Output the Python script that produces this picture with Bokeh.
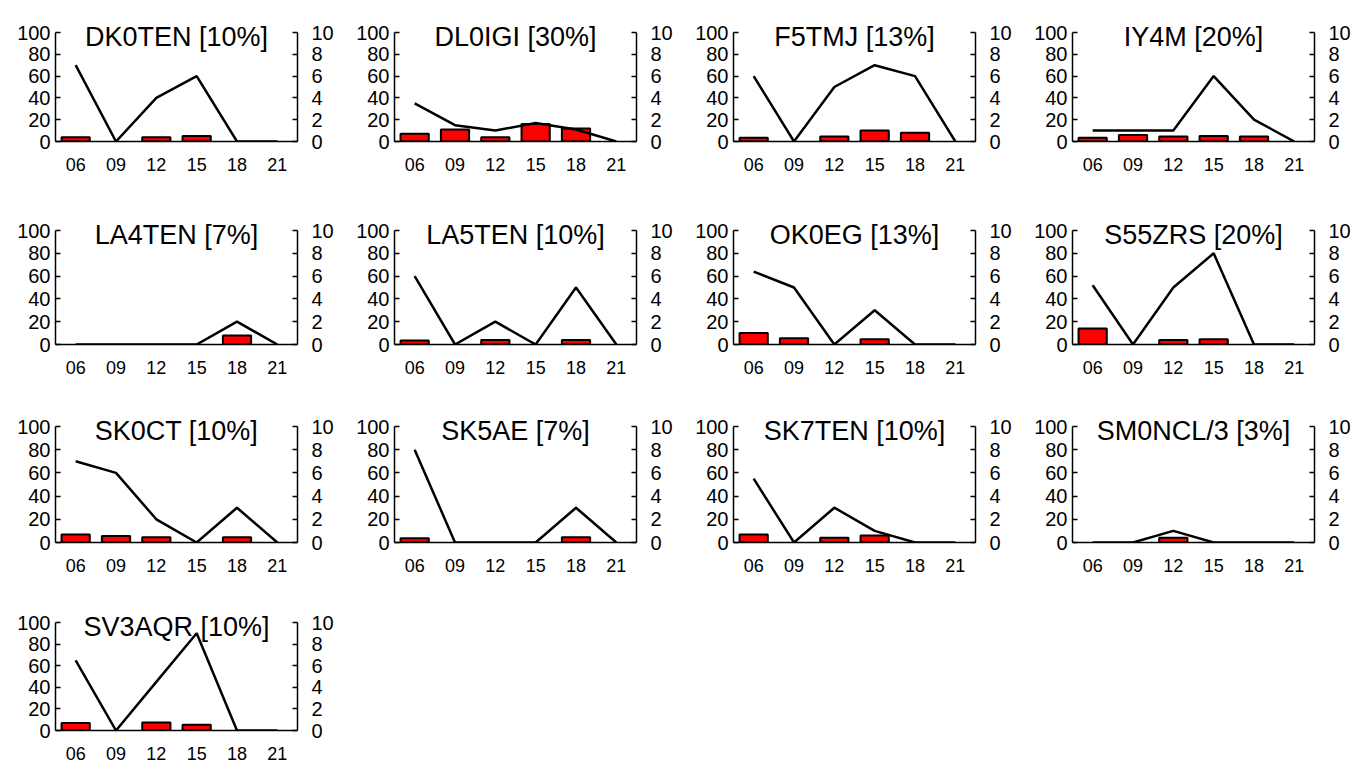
from bokeh.plotting import figure
from bokeh.models import Range1d, FactorRange, LinearAxis, FixedTicker, Label
from bokeh.layouts import gridplot
from bokeh.embed import file_html
from bokeh.resources import INLINE

hours = ["06", "09", "12", "15", "18", "21"]
names = ["DK0TEN", "DL0IGI", "F5TMJ", "IY4M", "LA4TEN", "LA5TEN", "OK0EG",
         "S55ZRS", "SK0CT", "SK5AE", "SK7TEN", "SM0NCL/3", "SV3AQR"]
pcts = [10, 30, 13, 20, 7, 10, 13, 20, 10, 7, 10, 3, 10]

# line values (left axis scale, 0-100)
line_dk0ten = [70, 0, 40, 60, 0, 0]
line_dl0igi = [35, 15, 10, 17, 11, 0]
line_f5tmj = [60, 0, 50, 70, 60, 0]
line_iy4m = [10, 10, 10, 60, 20, 0]
line_la4ten = [0, 0, 0, 0, 20, 0]
line_la5ten = [60, 0, 20, 0, 50, 0]
line_ok0eg = [64, 50, 0, 30, 0, 0]
line_s55zrs = [52, 0, 50, 80, 0, 0]
line_sk0ct = [70, 60, 20, 0, 30, 0]
line_sk5ae = [80, 0, 0, 0, 30, 0]
line_sk7ten = [55, 0, 30, 10, 0, 0]
line_sm0ncl = [0, 0, 10, 0, 0, 0]
line_sv3aqr = [65, 0, 45, 90, 0, 0]

# bar values (left axis scale)
bar_dk0ten = [4, 0, 4, 5, 0, 0]
bar_dl0igi = [7, 11, 4, 16, 12, 0]
bar_f5tmj = [3.5, 0, 4.5, 10, 8, 0]
bar_iy4m = [3.5, 6, 4.5, 5, 4.5, 0]
bar_la4ten = [0, 0, 0, 0, 8, 0]
bar_la5ten = [3.5, 0, 4, 0, 4, 0]
bar_ok0eg = [10, 5.5, 0, 4.7, 0, 0]
bar_s55zrs = [14, 0, 4, 4.7, 0, 0]
bar_sk0ct = [7, 5.7, 4.6, 0, 4.6, 0]
bar_sk5ae = [3.7, 0, 0, 0, 4.5, 0]
bar_sk7ten = [7, 0, 4.2, 6, 0, 0]
bar_sm0ncl = [0, 0, 4, 0, 0, 0]
bar_sv3aqr = [7, 0, 7.4, 5.4, 0, 0]

lines = [line_dk0ten, line_dl0igi, line_f5tmj, line_iy4m, line_la4ten, line_la5ten,
         line_ok0eg, line_s55zrs, line_sk0ct, line_sk5ae, line_sk7ten, line_sm0ncl, line_sv3aqr]
bars = [bar_dk0ten, bar_dl0igi, bar_f5tmj, bar_iy4m, bar_la4ten, bar_la5ten,
        bar_ok0eg, bar_s55zrs, bar_sk0ct, bar_sk5ae, bar_sk7ten, bar_sm0ncl, bar_sv3aqr]

left_ticks = [0, 20, 40, 60, 80, 100]
right_ticks = [0, 2, 4, 6, 8, 10]

FONT = "Liberation Sans"

# layout per row: pixels above the 100 level, px per unit, bottom border
row_top = [32, 32, 32, 32]
row_scale = [1.09, 1.14, 1.16, 1.08]
row_bottom = [57, 50, 48, 38]
# layout per column
BORDER_L = 55
FRAME_W = 242
BORDER_R = 42

figs = []
for i, (name, pct, lv, bv) in enumerate(zip(names, pcts, lines, bars)):
    r = i // 4
    s = row_scale[r]
    top = 100 + row_top[r] / s
    fh = int(round(row_top[r] + 100 * s))
    p = figure(x_range=FactorRange(*hours), y_range=Range1d(0, top),
               frame_width=FRAME_W, frame_height=fh,
               min_border_left=BORDER_L, min_border_right=BORDER_R,
               min_border_top=0, min_border_bottom=row_bottom[r],
               output_backend="svg", toolbar_location=None, tools="")
    p.outline_line_color = None
    p.xgrid.visible = False
    p.ygrid.visible = False

    p.extra_y_ranges = {"r": Range1d(0, top / 10)}
    rax = LinearAxis(y_range_name="r", ticker=FixedTicker(ticks=right_ticks), bounds=(0, 10))
    p.add_layout(rax, "right")

    for ax in (p.yaxis[0], rax):
        ax.major_tick_in = 5
        ax.major_tick_out = 0
        ax.minor_tick_in = 0
        ax.minor_tick_out = 0
        ax.axis_line_color = "black"
        ax.axis_line_width = 1.5
        ax.major_tick_line_width = 1.5
        ax.major_label_text_font = FONT
        ax.major_label_text_font_size = "20px"
        ax.major_label_text_color = "black"
    p.yaxis[0].ticker = FixedTicker(ticks=left_ticks)
    p.yaxis[0].bounds = (0, 100)
    p.yaxis[0].major_label_standoff = 5
    rax.major_label_standoff = 14

    xa = p.xaxis[0]
    xa.major_tick_in = 0
    xa.major_tick_out = 0
    xa.axis_line_color = "black"
    xa.axis_line_width = 1.5
    xa.major_label_standoff = 16
    xa.major_label_text_font = FONT
    xa.major_label_text_font_size = "18px"
    xa.major_label_text_color = "black"

    bx = [h for h, v in zip(hours, bv) if v > 0]
    by = [v for v in bv if v > 0]
    p.vbar(x=bx, top=by, bottom=0, width=0.7, fill_color="red",
           line_color="black", line_width=2)
    p.line(x=hours, y=lv, line_color="black", line_width=2.5)

    p.add_layout(Label(x=3, y=100, text=f"{name} [{pct}%]", text_align="center",
                       text_baseline="alphabetic", y_offset=-4,
                       text_font=FONT, text_font_size="27px", text_color="black"))
    figs.append(p)

grid = gridplot(figs, ncols=4, toolbar_location=None)

open("out.html", "w").write(file_html(grid, INLINE))
